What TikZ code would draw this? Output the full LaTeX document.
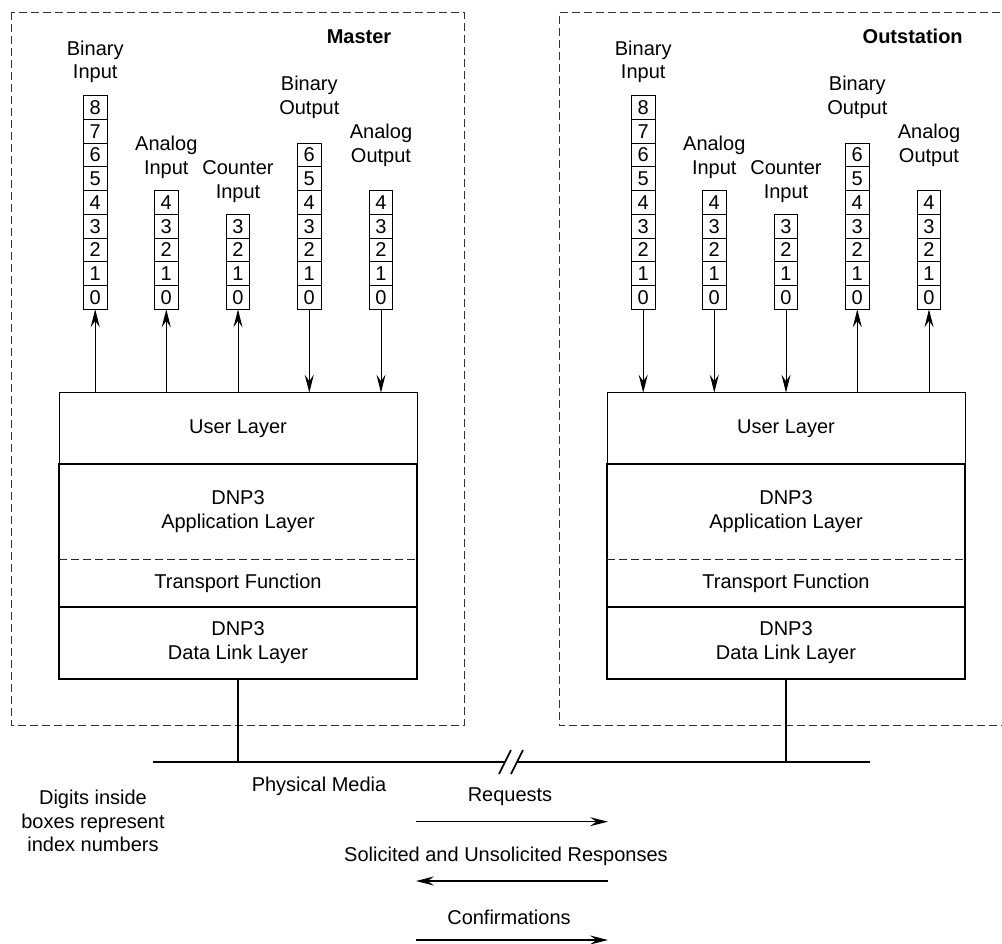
\documentclass[tikz,border=0pt]{standalone}
\usepackage{fontspec}
\setmainfont{Liberation Sans}
\usetikzlibrary{arrows.meta}
\tikzset{
  every node/.style={font=\fontsize{20}{23.6}\selectfont, inner sep=0pt, outer sep=0pt},
  cell/.style={draw, line width=1pt, minimum size=23.75pt},
  lbl/.style={align=center, anchor=base},
  title/.style={anchor=base, font=\fontsize{20}{24}\selectfont\bfseries},
  conn/.style={line width=1pt, -{Stealth[length=18pt,width=9pt,inset=6.5pt]}},
  flow/.style={line width=1.2pt, -{Stealth[length=18pt,width=9pt,inset=6.5pt]}},
  dashbox/.style={draw=black!80, line width=1pt, dash pattern=on 8pt off 4pt},
  divider/.style={draw=black!85, line width=1pt, dash pattern=on 8pt off 4pt},
  thinbox/.style={draw, line width=1pt, minimum width=358pt},
  thickbox/.style={draw, line width=2pt, minimum width=358pt},
  media/.style={line width=2pt},
  brk/.style={line width=1.6pt},
}
\newcommand\regstack[3]{%
  \foreach \k in {0,...,#3}{\node[cell] (#1-\k) at (#2,{309.3-(\k+0.5)*23.75}) {\k};}}
\begin{document}
\begin{tikzpicture}[x=1pt,y=-1pt]
\useasboundingbox (0,0) rectangle (1002,944);

% ---------------- Master ----------------
\draw[dashbox] (11.7,12.3) rectangle (464.3,725.5);
\node[title] (mTitle) at (359,44) {Master};

\node[lbl] (mBIl) at (95.2,79) {Binary\\Input};
\node[lbl] (mAIl) at (166.3,174.3) {Analog\\Input};
\node[lbl] (mCIl) at (238,198.3) {Counter\\Input};
\node[lbl] (mBOl) at (309.3,114.3) {Binary\\Output};
\node[lbl] (mAOl) at (381,162.3) {Analog\\Output};

\regstack{mBI}{95.2}{8}
\regstack{mAI}{166.3}{4}
\regstack{mCI}{238}{3}
\regstack{mBO}{309.3}{6}
\regstack{mAO}{381}{4}

\node[thinbox, minimum height=71.6pt] (mUser) at (238,428.5) {User Layer};
\node[thickbox, minimum height=142.7pt] (mApp) at (238,535.65) {};
\node[align=center] (mAppT) at (238,511.5) {DNP3\\Application Layer};
\draw[divider] (mApp.west |- 0,559.3) -- (mApp.east |- 0,559.3);
\node (mTrans) at (238,583.5) {Transport Function};
\node[thickbox, minimum height=71.7pt, align=center] (mDL) at (238,642.85) {DNP3\\Data Link Layer};

\draw[conn] (mUser.north -| mBI-0) -- (mBI-0.south);
\draw[conn] (mUser.north -| mAI-0) -- (mAI-0.south);
\draw[conn] (mUser.north -| mCI-0) -- (mCI-0.south);
\draw[conn] (mBO-0.south) -- (mUser.north -| mBO-0);
\draw[conn] (mAO-0.south) -- (mUser.north -| mAO-0);

% ---------------- Outstation ----------------
\draw[dashbox] (1012,12.3) -- (559.3,12.3) -- (559.3,725.5) -- (1012,725.5);
\node[title] (oTitle) at (912.7,44) {Outstation};

\node[lbl] (oBIl) at (643.2,79) {Binary\\Input};
\node[lbl] (oAIl) at (714.3,174.3) {Analog\\Input};
\node[lbl] (oCIl) at (786,198.3) {Counter\\Input};
\node[lbl] (oBOl) at (857.3,114.3) {Binary\\Output};
\node[lbl] (oAOl) at (929,162.3) {Analog\\Output};

\regstack{oBI}{643.2}{8}
\regstack{oAI}{714.3}{4}
\regstack{oCI}{786}{3}
\regstack{oBO}{857.3}{6}
\regstack{oAO}{929}{4}

\node[thinbox, minimum height=71.6pt] (oUser) at (786,428.5) {User Layer};
\node[thickbox, minimum height=142.7pt] (oApp) at (786,535.65) {};
\node[align=center] (oAppT) at (786,511.5) {DNP3\\Application Layer};
\draw[divider] (oApp.west |- 0,559.3) -- (oApp.east |- 0,559.3);
\node (oTrans) at (786,583.5) {Transport Function};
\node[thickbox, minimum height=71.7pt, align=center] (oDL) at (786,642.85) {DNP3\\Data Link Layer};

\draw[conn] (oBI-0.south) -- (oUser.north -| oBI-0);
\draw[conn] (oAI-0.south) -- (oUser.north -| oAI-0);
\draw[conn] (oCI-0.south) -- (oUser.north -| oCI-0);
\draw[conn] (oUser.north -| oBO-0) -- (oBO-0.south);
\draw[conn] (oUser.north -| oAO-0) -- (oAO-0.south);

% ---------------- Physical media ----------------
\coordinate (pmL) at (153.3,761.7);
\coordinate (brkL) at (505,761.7);
\coordinate (brkR) at (517,761.7);
\coordinate (pmR) at (870,761.7);
\draw[media] (pmL) -- (brkL);
\draw[media] (brkR) -- (pmR);
\draw[brk] ([shift={(-6,12.3)}]brkL) -- ([shift={(6,-11.7)}]brkL);
\draw[brk] ([shift={(-6,12.3)}]brkR) -- ([shift={(6,-11.7)}]brkR);
\draw[media] (mDL.south) -- (mDL.south |- pmL);
\draw[media] (oDL.south) -- (oDL.south |- pmL);

\node (pmText) at (319,786.7) {Physical Media};
\node[align=center] (note) at (93,821) {Digits inside\\boxes represent\\index numbers};

\node (req) at (510,797) {Requests};
\coordinate (reqA) at (416,821.7);
\coordinate (reqB) at (608,821.7);
\draw[flow] (reqA) -- (reqB);

\node (resp) at (506,856.7) {Solicited and Unsolicited Responses};
\coordinate (respA) at (608,881);
\coordinate (respB) at (416,881);
\draw[flow] (respA) -- (respB);

\node (conf) at (509,917.3) {Confirmations};
\coordinate (confA) at (416,940);
\coordinate (confB) at (608,940);
\draw[flow] (confA) -- (confB);
\end{tikzpicture}
\end{document}
